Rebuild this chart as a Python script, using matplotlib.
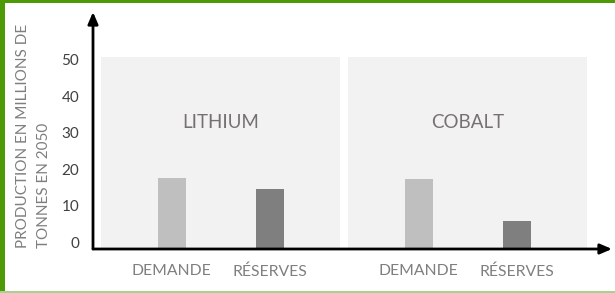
import matplotlib
matplotlib.use("Agg")
import matplotlib.pyplot as plt
from matplotlib.patches import Rectangle

plt.rcParams['font.family'] = ['Lato', 'DejaVu Sans']

# ---- data ----
groups = ["LITHIUM", "COBALT"]
categories = ["DEMANDE", "RÉSERVES", "DEMANDE", "RÉSERVES"]
positions = [0.0, 1.0, 2.52, 3.52]
values = [17.6, 14.6, 17.2, 5.9]
bar_colors = ["#bfbfbf", "#7f7f7f", "#bfbfbf", "#7f7f7f"]
group_centers = [0.5, 3.02]
yticks = [0, 10, 20, 30, 40, 50]
panel_top = 50.8
ylabel_lines = ["PRODUCTION EN MILLIONS DE", "TONNES EN 2050"]

W, H = 615, 293
fig = plt.figure(figsize=(W / 100, H / 100), dpi=100)
fig.patch.set_facecolor("white")

left, right, bottom, top = 93, 612, 249, 12
ax = fig.add_axes([left / W, 1 - bottom / H, (right - left) / W, (bottom - top) / H])
ax.set_facecolor("none")

ymin, ymax = -(249 - 242) / 3.64, (242 - 12) / 3.64
xmin, xmax = (93 - 171.7) / 98, (612 - 171.7) / 98
ax.set_xlim(xmin, xmax)
ax.set_ylim(ymin, ymax)

# gray panels
for gc in group_centers:
    ax.bar(gc, panel_top - ymin, bottom=ymin, width=2.44, color="#f2f2f2", zorder=0)

# bars
for p, v, c in zip(positions, values, bar_colors):
    ax.bar(p, v - ymin, bottom=ymin, width=0.286, color=c, zorder=2)

# group labels
for gc, g in zip(group_centers, groups):
    ax.text(gc, 32.8, g, ha="center", va="center", fontsize=13.5, color="#767171", zorder=3)

for s in ax.spines.values():
    s.set_visible(False)

ax.set_xticks(positions)
ax.set_xticklabels(categories, fontsize=11.3, color="#7f7f7f")
ax.set_yticks(yticks)
ax.set_yticklabels([str(t) for t in yticks], fontsize=11, color="#404040")
ax.tick_params(axis="x", length=0, pad=11)
ax.tick_params(axis="y", length=0, pad=10)

# axis arrows
ax.annotate("", xy=(0, 1), xytext=(0, 0), xycoords="axes fraction",
            arrowprops=dict(arrowstyle="-|>,head_length=0.7,head_width=0.3", lw=2, color="black",
                            shrinkA=0, shrinkB=0), zorder=5)
ax.annotate("", xy=(1, 0), xytext=(0, 0), xycoords="axes fraction",
            arrowprops=dict(arrowstyle="-|>,head_length=0.7,head_width=0.3", lw=2, color="black",
                            shrinkA=0, shrinkB=0), zorder=5)

# y label (two lines, bottom aligned)
fig.text(23 / W, 1 - 248 / H, ylabel_lines[0], rotation=90, ha="center", va="bottom",
         fontsize=11, color="#7f7f7f")
fig.text(44 / W, 1 - 248 / H, ylabel_lines[1], rotation=90, ha="center", va="bottom",
         fontsize=11, color="#7f7f7f")

# green frame
fig.add_artist(Rectangle((0, 1 - 3 / H), 1, 3 / H, transform=fig.transFigure, color="#4e9a06", lw=0))
fig.add_artist(Rectangle((0, 0), 4.5 / W, 1, transform=fig.transFigure, color="#4e9a06", lw=0))
fig.add_artist(Rectangle((0, 0), 1, 2 / H, transform=fig.transFigure, color="#a9d18e", lw=0))

fig.savefig("out.png", dpi=100)
